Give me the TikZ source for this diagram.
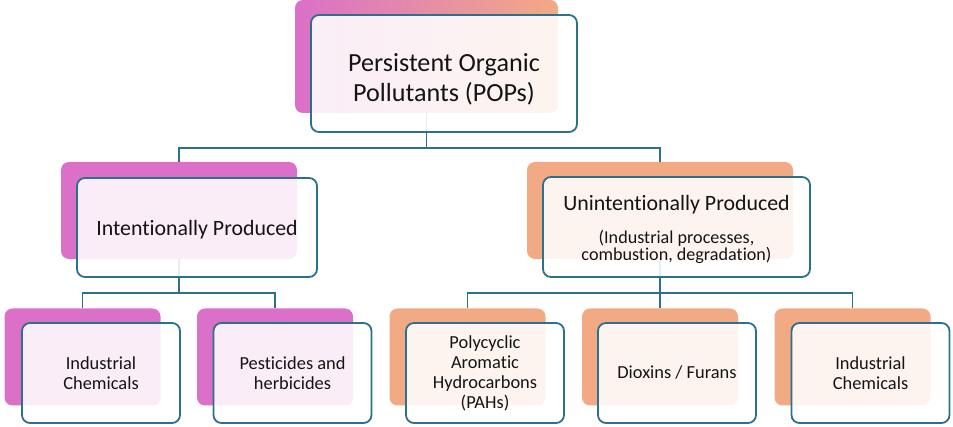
\documentclass[tikz,border=0pt]{standalone}
\usepackage{fontspec}
\setmainfont[Ligatures=NoCommon]{Carlito}
\usetikzlibrary{positioning}
\definecolor{magbk}{RGB}{218,112,200}
\definecolor{orgbk}{RGB}{242,170,132}
\definecolor{edgeblue}{RGB}{45,112,140}
\definecolor{inktext}{RGB}{20,20,20}

\begin{document}
\begin{tikzpicture}[x=0.75pt,y=-0.75pt,
  backbox/.style={rounded corners=6pt,inner sep=0pt,minimum width=117pt,minimum height=72.75pt},
  frontbox/.style={draw=edgeblue,line width=1.35pt,rounded corners=6pt,fill=white,fill opacity=0.88,text opacity=1,text=inktext,align=center,inner sep=0pt,minimum width=118.5pt,minimum height=75pt},
  leaftext/.style={font=\fontsize{13.8}{15}\selectfont},
  link/.style={draw=edgeblue,line width=1.35pt}]
  \useasboundingbox (0,0) rectangle (953,427);
  % back plates
  \node[backbox,left color=magbk,right color=orgbk,minimum width=197.25pt,minimum height=84.75pt] (popsback) at (426.5,56.5) {};
  \node[backbox,fill=magbk,minimum width=177pt] (intback) at (179,210.5) {};
  \node[backbox,fill=orgbk,minimum width=199.5pt] (unintback) at (660,210.5) {};
  \foreach \nm/\cx/\col in {indl/82.5/magbk,pest/275/magbk,pah/467.5/orgbk,diox/660/orgbk,indr/852.5/orgbk}
    \node[backbox,fill=\col] (\nm back) at (\cx,357) {};
  % connectors
  \draw[link] (popsback.south) -- ++(0,35) -| (intback.north);
  \draw[link] (popsback.south) -- ++(0,35) -| (unintback.north);
  \foreach \nm in {indl,pest}
    \draw[link] (intback.south) -- ++(0,34) -| (\nm back.north);
  \foreach \nm in {pah,diox,indr}
    \draw[link] (unintback.south) -- ++(0,34) -| (\nm back.north);
  % front boxes
  \node[frontbox,minimum width=199.5pt,minimum height=87.75pt,font=\fontsize{19.6}{22.5}\selectfont] (pops) at (444,73.5) {\rule{0pt}{21.5pt}Persistent Organic\\Pollutants (POPs)};
  \node[frontbox,minimum width=180pt,minimum height=74.25pt,font=\fontsize{16.4}{20}\selectfont] (int) at (197,227.5) {\rule{0pt}{14pt}Intentionally Produced};
  \node[frontbox,minimum width=200.25pt,font=\fontsize{16.4}{20}\selectfont] (unint) at (676.5,227) {\rule{0pt}{15pt}Unintentionally Produced\\[5pt]{\fontsize{13.6}{12.5}\selectfont (Industrial processes,}\\[-7pt]{\fontsize{13.6}{12.5}\selectfont combustion, degradation)}};
  \node[frontbox,leaftext] (indl) at ([shift={(18.5,16)}]indlback) {Industrial\\Chemicals};
  \node[frontbox,leaftext] (pest) at ([shift={(17.5,16)}]pestback) {Pesticides and\\herbicides};
  \node[frontbox,leaftext] (pah) at ([shift={(17.5,16)}]pahback) {Polycyclic\\Aromatic\\Hydrocarbons\\(PAHs)};
  \node[frontbox,leaftext] (diox) at ([shift={(17,16)}]dioxback) {Dioxins / Furans};
  \node[frontbox,leaftext] (indr) at ([shift={(18,16)}]indrback) {Industrial\\Chemicals};
\end{tikzpicture}
\end{document}
